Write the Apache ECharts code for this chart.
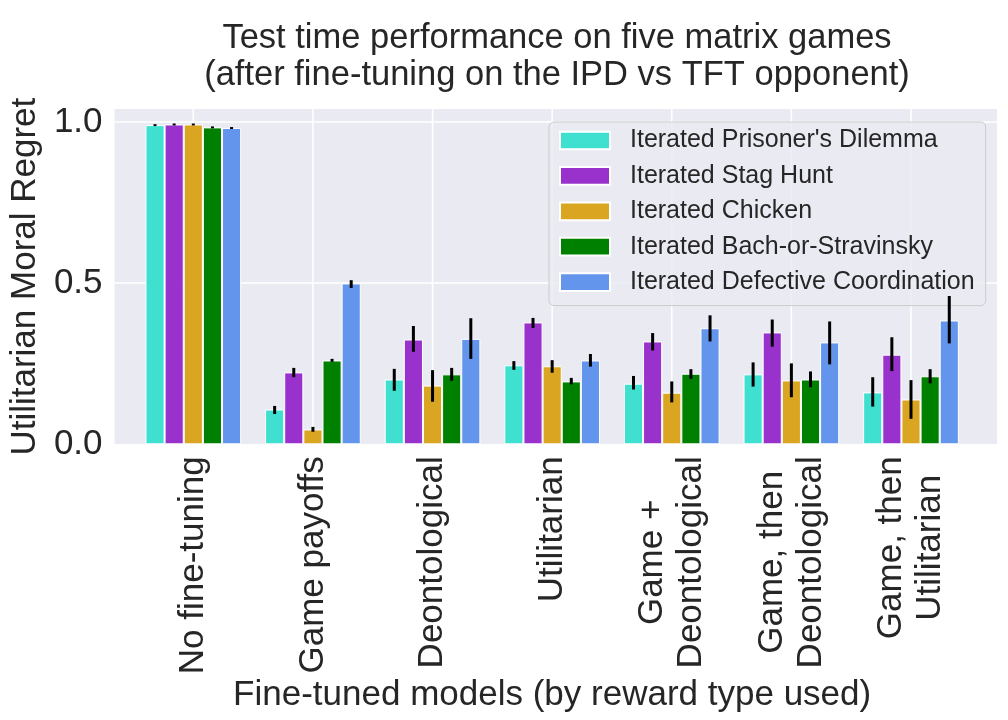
<!DOCTYPE html>
<html>
<head>
<meta charset="utf-8">
<script src="https://cdn.jsdelivr.net/npm/echarts@6/dist/echarts.min.js"></script>
<style>html,body{margin:0;padding:0;background:#fff}#c{width:1008px;height:720px}</style>
</head>
<body>
<div id="c"></div>
<script>
const categories = ['No fine-tuning', 'Game payoffs', 'Deontological', 'Utilitarian',
  'Game +\nDeontological', 'Game, then\nDeontological', 'Game, then\nUtilitarian'];
const seriesNames = ["Iterated Prisoner's Dilemma", 'Iterated Stag Hunt', 'Iterated Chicken',
  'Iterated Bach-or-Stravinsky', 'Iterated Defective Coordination'];
const colors = ['#40E0D0', '#9932CC', '#DAA520', '#008000', '#6495ED'];
const yTicks = [0, 0.5, 1.0];

const ipdMean = [0.990, 0.108, 0.201, 0.245, 0.188, 0.217, 0.161];
const ipdLow  = [0.987, 0.094, 0.166, 0.231, 0.170, 0.179, 0.117];
const ipdHigh = [0.993, 0.119, 0.234, 0.258, 0.212, 0.254, 0.208];

const ishMean = [0.992, 0.223, 0.325, 0.378, 0.319, 0.347, 0.278];
const ishLow  = [0.989, 0.208, 0.287, 0.361, 0.291, 0.303, 0.227];
const ishHigh = [0.995, 0.237, 0.367, 0.392, 0.345, 0.387, 0.332];

const icMean = [0.992, 0.046, 0.182, 0.242, 0.160, 0.198, 0.139];
const icLow  = [0.989, 0.039, 0.132, 0.222, 0.130, 0.146, 0.079];
const icHigh = [0.995, 0.054, 0.230, 0.261, 0.195, 0.251, 0.199];

const ibsMean = [0.983, 0.260, 0.217, 0.195, 0.219, 0.201, 0.211];
const ibsLow  = [0.980, 0.256, 0.197, 0.186, 0.203, 0.177, 0.189];
const ibsHigh = [0.986, 0.265, 0.237, 0.206, 0.233, 0.226, 0.233];

const idcMean = [0.981, 0.499, 0.327, 0.260, 0.360, 0.316, 0.384];
const idcLow  = [0.978, 0.485, 0.265, 0.241, 0.319, 0.248, 0.313];
const idcHigh = [0.984, 0.509, 0.391, 0.280, 0.400, 0.381, 0.460];

const means = [ipdMean, ishMean, icMean, ibsMean, idcMean];
const lows = [ipdLow, ishLow, icLow, ibsLow, idcLow];
const highs = [ipdHigh, ishHigh, icHigh, ibsHigh, idcHigh];

const FONT = "'Liberation Sans', Arial, Helvetica, sans-serif";
const TXT = '#262626';
const FS = 35;

const errData = [];
for (let s = 0; s < 5; s++) for (let c = 0; c < categories.length; c++)
  errData.push([c, s, lows[s][c], highs[s][c]]);

const barSeries = seriesNames.map((n, s) => ({
  name: n, type: 'bar', xAxisIndex: 1, yAxisIndex: 1,
  data: means[s], barGap: '0%', barCategoryGap: '20%', z: 3,
  itemStyle: { color: colors[s], borderColor: '#ffffff', borderWidth: 1 }
}));

const chart = echarts.init(document.getElementById('c'), null, { renderer: 'canvas' });
chart.setOption({
  animation: false,
  backgroundColor: '#ffffff',
  textStyle: { fontFamily: FONT },
  title: {
    text: 'Test time performance on five matrix games\n(after fine-tuning on the IPD vs TFT opponent)',
    left: 552, top: 15, textAlign: 'center',
    textStyle: { fontFamily: FONT, fontSize: 34.5, fontWeight: 'normal', color: TXT, lineHeight: 37 }
  },
  legend: {
    data: seriesNames, orient: 'vertical', left: 549, top: 122,
    padding: [6, 11, 11, 10], itemWidth: 50, itemHeight: 17.7, itemGap: 10.4,
    backgroundColor: 'rgba(234,234,242,0.8)', borderColor: '#cccccc', borderWidth: 1, borderRadius: 5,
    icon: 'rect',
    textStyle: { fontFamily: FONT, fontSize: 25, color: TXT, padding: [0, 0, 0, 15] }
  },
  grid: [
    { left: 107, right: 11, top: 109, bottom: 275.7, show: true, backgroundColor: '#EAEAF2', borderWidth: 0 },
    { left: 133.5, right: 37.2, top: 109, bottom: 275.7 }
  ],
  xAxis: [
    { gridIndex: 0, type: 'value', min: 0, max: 1, show: false },
    {
      gridIndex: 1, type: 'category', data: categories,
      axisLine: { show: false }, axisTick: { show: false }, splitLine: { show: false },
      axisLabel: {
        rotate: 90, margin: 12, color: TXT, fontFamily: FONT, fontSize: FS, lineHeight: 39,
        formatter: v => v.split('\n').map(l => '{c|' + l + '}').join('\n'),
        rich: { c: { align: 'center', fontFamily: FONT, fontSize: FS, lineHeight: 39, color: TXT } }
      },
      name: 'Fine-tuned models (by reward type used)', nameLocation: 'middle', nameGap: 225,
      nameTextStyle: { fontFamily: FONT, fontSize: FS, color: TXT }
    }
  ],
  yAxis: [
    {
      gridIndex: 0, type: 'value', min: 0, max: 1.04,
      axisLine: { show: false }, axisTick: { show: false, customValues: yTicks },
      axisLabel: { customValues: yTicks, margin: 12, color: TXT, fontFamily: FONT, fontSize: FS,
        formatter: v => v.toFixed(1) },
      splitLine: { show: true, lineStyle: { color: '#ffffff', width: 1.5 } },
      name: 'Utilitarian Moral Regret', nameLocation: 'middle', nameGap: 58,
      nameTextStyle: { fontFamily: FONT, fontSize: FS, color: TXT }
    },
    { gridIndex: 1, type: 'value', min: 0, max: 1.04, show: false }
  ],
  series: [
    {
      type: 'custom', name: 'vgrid', xAxisIndex: 1, yAxisIndex: 1, z: 1, silent: true,
      data: categories.map((c, i) => [i]),
      renderItem: (params, api) => {
        const i = api.value(0);
        const p0 = api.coord([i, 0]);
        const p1 = api.coord([i, 1.04]);
        return { type: 'line', shape: { x1: p0[0], y1: p0[1], x2: p1[0], y2: p1[1] },
          style: { stroke: '#ffffff', lineWidth: 1.5 } };
      }
    },
    ...barSeries,
    {
      type: 'custom', name: 'errors', xAxisIndex: 1, yAxisIndex: 1, z: 5, silent: true,
      data: errData,
      renderItem: (params, api) => {
        const c = api.value(0), s = api.value(1);
        const band = api.size([1, 0])[0];
        const bw = band * 0.8 / 5;
        const x = api.coord([c, 0])[0] + (s - 2) * bw;
        const y1 = api.coord([c, api.value(2)])[1];
        const y2 = api.coord([c, api.value(3)])[1];
        return { type: 'line', shape: { x1: x, y1: y1, x2: x, y2: y2 },
          style: { stroke: '#000000', lineWidth: 3 } };
      }
    }
  ]
});
</script>
</body>
</html>
